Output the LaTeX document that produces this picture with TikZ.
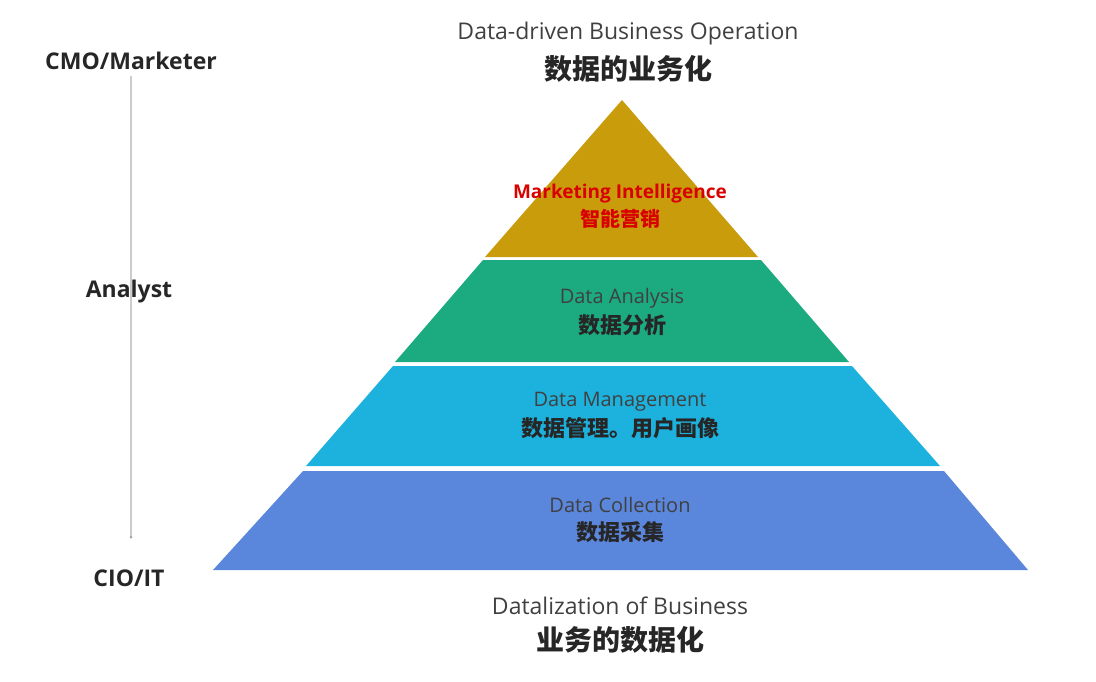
\documentclass[tikz,border=0pt]{standalone}
\usepackage{fontspec}
\setmainfont{Open Sans}
\newfontfamily\cjk{Noto Sans CJK SC}
\begin{document}
\begin{tikzpicture}[x=1pt,y=-1pt,
  lbl/.style={font=\fontsize{23}{25}\selectfont\bfseries, text=black!85},
  en/.style={font=\fontsize{20}{22}\selectfont, text=black!75},
  cn/.style={font=\fontsize{22}{24}\selectfont\cjk\bfseries, text=black!85}]
\useasboundingbox (0,0) rectangle (1096,682);
\definecolor{cgold}{HTML}{C99C0C}
\definecolor{cgreen}{HTML}{1CAA80}
\definecolor{ccyan}{HTML}{1DB2DD}
\definecolor{cblue}{HTML}{5A86DC}
% layers
\fill[cgold] (622,100) -- (758,257) -- (485,257) -- cycle;
\fill[cgreen] (483,260) -- (761,260) -- (849,362) -- (395,362) -- cycle;
\fill[ccyan] (393,366) -- (852,366) -- (940,466) -- (306,466) -- cycle;
\fill[cblue] (303,471) -- (944,471) -- (1028,570) -- (213,570) -- cycle;
% left axis
\node[lbl] (cmo) at (131,61) {CMO/Marketer};
\node[lbl] (ana) at (129,292) {Analyst};
\node[lbl] (cio) at (129,578) {CIO/IT};
\coordinate (top) at (131,76);
\coordinate (bot) at (131,537);
\draw[black!20, line width=1.2pt] (top) -- (bot);
\fill[black!35] (bot) circle (1.5);
% top / bottom
\node[en, font=\fontsize{23}{25}\selectfont] (te) at (628,34) {Data-driven Business Operation};
\node[cn, font=\fontsize{28}{30}\selectfont\cjk\bfseries] (tc) at (628,69) {数据的业务化};
\node[en, font=\fontsize{23}{25}\selectfont] (be) at (620,606) {Datalization of Business};
\node[cn, font=\fontsize{28}{30}\selectfont\cjk\bfseries] (bc) at (620,640) {业务的数据化};
% layer labels
\node[en, text=red!85!black, font=\fontsize{19}{21}\selectfont\bfseries] (m1) at (620,194) {Marketing Intelligence};
\node[cn, text=red!85!black, font=\fontsize{20}{22}\selectfont\cjk\bfseries] (m2) at (620,219) {智能营销};
\node[en] (a1) at (622,298) {Data Analysis};
\node[cn] (a2) at (622,325) {数据分析};
\node[en] (d1) at (620,402) {Data Management};
\node[cn] (d2) at (620,428) {数据管理。用户画像};
\node[en] (c1) at (620,505) {Data Collection};
\node[cn] (c2) at (620,532) {数据采集};
\end{tikzpicture}
\end{document}
